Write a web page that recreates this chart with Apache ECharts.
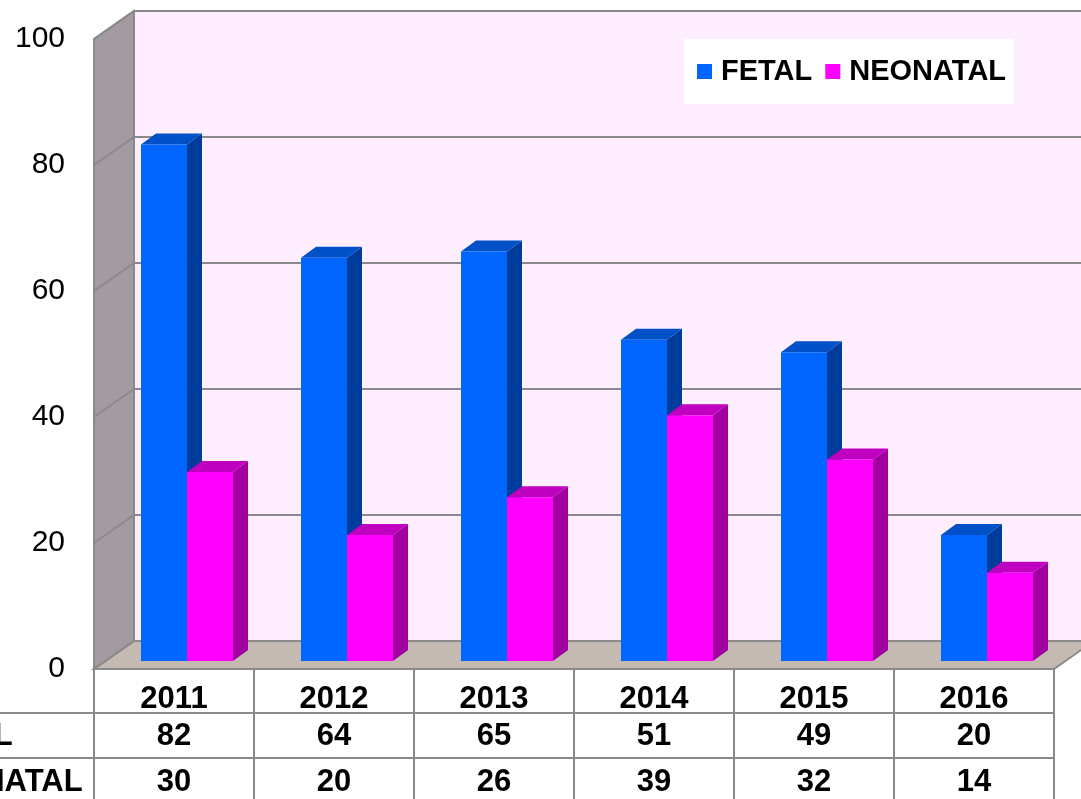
<!DOCTYPE html>
<html>
<head>
<meta charset="utf-8">
<script src="https://cdn.jsdelivr.net/npm/echarts@6/dist/echarts.min.js"></script>
<style>
  html, body { margin: 0; padding: 0; background: #ffffff; }
  #chart { width: 1081px; height: 799px; }
</style>
</head>
<body>
<div id="chart"></div>
<script>
// Annual counts per year
const years = ['2011', '2012', '2013', '2014', '2015', '2016'];
const fetal = [82, 64, 65, 51, 49, 20];
const neonatal = [30, 20, 26, 39, 32, 14];
const seriesNames = ['FETAL', 'NEONATAL'];
const yTicks = [0, 20, 40, 60, 80, 100];

const FONT = 'Arial, "Liberation Sans", sans-serif';
const WALL = [40, -28];       // depth of the box: front edge -> back wall
const BAR_OFF = [12, -8];     // bars stand this far in from the front edge
const BAR_DEPTH = [15, -11];  // thickness of each bar
const EDGE = '#8a8a8a';

const palette = [
  { front: '#0066FF', top: '#0050C8', side: '#003C9C' },
  { front: '#FF00FF', top: '#C000C0', side: '#A000A0' }
];

function mv(p, d) { return [p[0] + d[0], p[1] + d[1]]; }
function seg(a, b, w) {
  return { type: 'line', shape: { x1: a[0], y1: a[1], x2: b[0], y2: b[1] },
           style: { stroke: EDGE, lineWidth: w || 2 } };
}

// Side wall, floor and back wall with its grid lines
function renderBox(params, api) {
  const cs = params.coordSys;
  const L = cs.x, R = cs.x + cs.width;
  const y0 = api.coord([0, 0])[1];
  const yT = api.coord([0, 100])[1];
  const kids = [];
  const bTL = mv([L, yT], WALL), bBR = mv([R, y0], WALL);
  kids.push({ type: 'rect', shape: { x: bTL[0], y: bTL[1], width: bBR[0] - bTL[0], height: bBR[1] - bTL[1] },
              style: { fill: '#FFEEFF' } });
  kids.push({ type: 'polygon', shape: { points: [[L, yT], mv([L, yT], WALL), mv([L, y0], WALL), [L, y0]] },
              style: { fill: '#A39BA1', stroke: EDGE, lineWidth: 2 } });
  kids.push({ type: 'polygon', shape: { points: [[L, y0], [R, y0], mv([R, y0], WALL), mv([L, y0], WALL)] },
              style: { fill: '#C4BAB1', stroke: EDGE, lineWidth: 2 } });
  yTicks.forEach(function (v) {
    const y = api.coord([0, v])[1];
    kids.push(seg([L, y], mv([L, y], WALL)));
    kids.push(seg(mv([L, y], WALL), mv([R, y], WALL)));
  });
  kids.push(seg(mv([L, yT], WALL), mv([L, y0], WALL)));
  return { type: 'group', children: kids };
}

// A 3D bar: side face, top face, front face
function barRenderer(idx) {
  const col = palette[idx];
  return function (params, api) {
    const c = api.value(0);
    const base = api.coord([c, 0]);
    const top = api.coord([c, api.value(1)]);
    const band = api.size([1, 0])[0];
    const w = band * 0.2875;
    const left = base[0] - w + idx * w + 1 + BAR_OFF[0];
    const right = left + w;
    const yb = base[1] + BAR_OFF[1];
    const yt = top[1] + BAR_OFF[1];
    const dx = BAR_DEPTH[0], dy = BAR_DEPTH[1];
    return { type: 'group', children: [
      { type: 'polygon', shape: { points: [[right, yt], [right + dx, yt + dy], [right + dx, yb + dy], [right, yb]] },
        style: { fill: col.side } },
      { type: 'polygon', shape: { points: [[left, yt], [left + dx, yt + dy], [right + dx, yt + dy], [right, yt]] },
        style: { fill: col.top } },
      { type: 'rect', shape: { x: left, y: yt, width: w, height: yb - yt }, style: { fill: col.front } }
    ] };
  };
}

// Data table under the floor: one column per year
const ROW1 = 44, ROW2 = 89, ROW_END = 140;
function renderTable(params, api) {
  const cs = params.coordSys;
  const i = api.value(0);
  const p = api.coord([i, 0]);
  const band = api.size([1, 0])[0];
  const cx = p[0], y0 = p[1];
  const kids = [];
  const txt = function (s, x, y, align) {
    return { type: 'text', x: x, y: y,
             style: { text: s, fill: '#000', font: 'bold 31px ' + FONT, align: align || 'center', verticalAlign: 'middle' } };
  };
  kids.push(seg([cx + band / 2, y0], [cx + band / 2, y0 + ROW_END]));
  if (i === 0) {
    kids.push(seg([cx - band / 2, y0], [cx - band / 2, y0 + ROW_END]));
    kids.push(seg([0, y0 + ROW1], [cs.x + cs.width, y0 + ROW1]));
    kids.push(seg([0, y0 + ROW2], [cs.x + cs.width, y0 + ROW2]));
    kids.push(txt(seriesNames[0], cs.x - 179, y0 + 67, 'left'));
    kids.push(txt(seriesNames[1], cs.x - 179, y0 + 113, 'left'));
  }
  kids.push(txt(String(api.value(1)), cx, y0 + 67));
  kids.push(txt(String(api.value(2)), cx, y0 + 113));
  return { type: 'group', children: kids };
}

const chart = echarts.init(document.getElementById('chart'), null, { renderer: 'canvas' });
chart.setOption({
  animation: false,
  backgroundColor: '#ffffff',
  grid: { left: 94, top: 39, width: 960, height: 630 },
  legend: {
    data: seriesNames, left: 684, top: 39,
    backgroundColor: '#ffffff', padding: [18, 7, 18, 13],
    itemWidth: 15, itemHeight: 15, itemGap: 13, icon: 'rect',
    textStyle: { fontSize: 29, fontWeight: 'bold', color: '#000', fontFamily: FONT, padding: [0, 0, 0, 4] }
  },
  xAxis: {
    type: 'category', data: years,
    axisLine: { show: false }, axisTick: { show: false }, splitLine: { show: false },
    axisLabel: { fontSize: 31, fontWeight: 'bold', color: '#000', fontFamily: FONT, margin: 15 }
  },
  yAxis: {
    type: 'value', min: 0, max: 100, interval: 20,
    axisLine: { show: false }, axisTick: { show: false }, splitLine: { show: false },
    axisLabel: { fontSize: 30, color: '#000', fontFamily: FONT, margin: 29 }
  },
  series: [
    { type: 'custom', name: 'box', data: [[0, 0]], renderItem: renderBox, silent: true, z: 1 },
    { type: 'custom', name: seriesNames[0], itemStyle: { color: palette[0].front },
      data: fetal.map(function (v, i) { return [i, v]; }), renderItem: barRenderer(0), z: 2 },
    { type: 'custom', name: seriesNames[1], itemStyle: { color: palette[1].front },
      data: neonatal.map(function (v, i) { return [i, v]; }), renderItem: barRenderer(1), z: 3 },
    { type: 'custom', name: 'table', silent: true, z: 4,
      data: years.map(function (y, i) { return [i, fetal[i], neonatal[i]]; }),
      encode: { x: 0, y: 1 }, renderItem: renderTable }
  ]
});
</script>
</body>
</html>
